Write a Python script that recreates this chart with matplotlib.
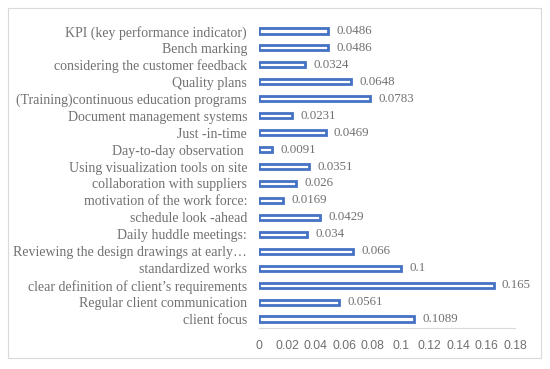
import matplotlib.pyplot as plt
from matplotlib.patches import Rectangle

labels = [
    "client focus",
    "Regular client communication",
    "clear definition of client\u2019s requirements",
    "standardized works",
    "Reviewing the design drawings at early\u2026",
    "Daily huddle meetings:",
    "schedule look -ahead",
    "motivation of the work force:",
    "collaboration with suppliers",
    "Using visualization tools on site",
    "Day-to-day observation ",
    "Just -in-time",
    "Document management systems",
    "(Training)continuous education programs",
    "Quality plans",
    "considering the customer feedback",
    "Bench marking",
    "KPI (key performance indicator)",
]
values = [0.1089, 0.0561, 0.165, 0.1, 0.066, 0.034, 0.0429, 0.0169, 0.026,
          0.0351, 0.0091, 0.0469, 0.0231, 0.0783, 0.0648, 0.0324, 0.0486, 0.0486]
value_text = ["0.1089", "0.0561", "0.165", "0.1", "0.066", "0.034", "0.0429",
              "0.0169", "0.026", "0.0351", "0.0091", "0.0469", "0.0231",
              "0.0783", "0.0648", "0.0324", "0.0486", "0.0486"]
xticks = [0, 0.02, 0.04, 0.06, 0.08, 0.1, 0.12, 0.14, 0.16, 0.18]
xtick_labels = ["0", "0.02", "0.04", "0.06", "0.08", "0.1", "0.12", "0.14", "0.16", "0.18"]

blue = "#4472C4"
gray = "#707070"
serif = ["Liberation Serif", "DejaVu Serif"]

fig = plt.figure(figsize=(5.5, 3.69), dpi=100)
fig.patches.append(Rectangle((8 / 550, 1 - 358 / 369), 533 / 550, 350 / 369,
                             transform=fig.transFigure, fill=False,
                             edgecolor="#d9d9d9", linewidth=0.8))
ax = fig.add_axes([259 / 550, 1 - 327.5 / 369, 256 / 550, 305 / 369])

y = list(range(len(labels)))
ax.barh(y, values, height=0.3, color="white", edgecolor=blue, linewidth=2)
for yi, v, t in zip(y, values, value_text):
    ax.text(v + 0.0058, yi, t, va="center", ha="left", fontsize=9.3,
            color=gray, family=serif)

ax.set_xlim(0, 0.18)
ax.set_ylim(-0.5, len(labels) - 0.5)
ax.set_yticks(y)
ax.set_yticklabels(labels, family=serif, fontsize=10, color=gray)
ax.set_xticks(xticks)
ax.set_xticklabels(xtick_labels, family=["Liberation Sans", "DejaVu Sans"],
                   fontsize=8.8, color=gray)
ax.tick_params(axis="both", length=0)
ax.tick_params(axis="y", pad=8.6)
ax.tick_params(axis="x", pad=9)
for s in ["top", "right", "left"]:
    ax.spines[s].set_visible(False)
ax.spines["bottom"].set_color("#d9d9d9")

fig.savefig("out.png", dpi=100)
